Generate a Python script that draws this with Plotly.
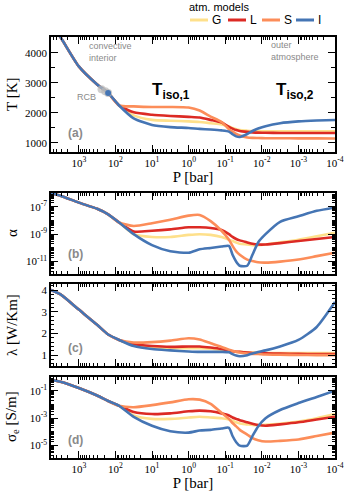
import plotly.graph_objects as go

# pressure grid [bar]; first 6 points = shared convective trunk
P = [5750, 3160, 1000, 316, 158, 79,
     31.6, 10, 3.16, 1, 0.5, 0.25, 0.126, 0.079, 0.063, 0.05, 0.04,
     0.025, 0.018, 0.0126, 0.0079, 0.00316, 0.001, 0.000316, 0.0001]

models = ['G', 'L', 'S', 'I']
colors = {'G': '#fee08b', 'L': '#dc2a24', 'S': '#fc8d59', 'I': '#4575b4'}

# (a) temperature [K]
T_trunk = [4950, 4520, 3550, 2950, 2667, 2250]
T_G = [1920, 1770, 1740, 1720, 1700, 1660, 1620, 1550, 1500, 1460, 1430, 1410, 1400, 1395, 1390, 1390, 1390, 1390, 1390]
T_L = [2020, 1940, 1900, 1870, 1850, 1770, 1680, 1540, 1480, 1430, 1400, 1370, 1355, 1345, 1340, 1335, 1335, 1333, 1333]
T_S = [2220, 2200, 2200, 2180, 2080, 1880, 1700, 1460, 1380, 1300, 1250, 1185, 1170, 1165, 1160, 1160, 1155, 1155, 1150]
T_I = [1820, 1600, 1530, 1500, 1470, 1450, 1420, 1380, 1290, 1220, 1200, 1300, 1400, 1480, 1560, 1660, 1720, 1750, 1767]

# (b) ionisation degree, log10
a_trunk = [-6.0, -6.2, -6.7, -7.15, -7.55, -8.15]
a_G = [-9.0, -9.2, -9.2, -9.05, -9.0, -9.05, -9.2, -9.4, -9.5, -9.6, -9.7, -9.75, -9.8, -9.8, -9.75, -9.6, -9.4, -9.15, -8.9]
a_L = [-8.8, -8.75, -8.65, -8.5, -8.5, -8.55, -8.7, -9.0, -9.2, -9.35, -9.45, -9.6, -9.7, -9.75, -9.75, -9.65, -9.5, -9.35, -9.2]
a_S = [-8.4, -8.2, -7.95, -7.65, -7.6, -8.05, -8.75, -9.4, -9.85, -10.25, -10.5, -10.85, -10.95, -11.05, -11.07, -11.0, -10.85, -10.6, -10.35]
a_I = [-9.0, -9.8, -10.25, -10.35, -10.1, -10.0, -9.9, -9.85, -10.5, -11.0, -11.3, -11.3, -10.5, -9.6, -9.0, -8.1, -7.7, -7.3, -7.05]

# (c) thermal conductivity [W/Km]
k_trunk = [4.0, 3.8, 3.1, 2.4, 1.95, 1.7]
k_G = [1.45, 1.35, 1.32, 1.32, 1.32, 1.3, 1.25, 1.2, 1.18, 1.16, 1.15, 1.13, 1.12, 1.11, 1.1, 1.1, 1.1, 1.1, 1.1]
k_L = [1.5, 1.42, 1.38, 1.4, 1.4, 1.35, 1.28, 1.2, 1.18, 1.16, 1.15, 1.12, 1.1, 1.09, 1.08, 1.07, 1.06, 1.05, 1.05]
k_S = [1.58, 1.6, 1.67, 1.78, 1.72, 1.55, 1.38, 1.25, 1.2, 1.15, 1.12, 1.08, 1.06, 1.05, 1.03, 1.02, 1.01, 1.0, 1.0]
k_I = [1.42, 1.28, 1.22, 1.17, 1.15, 1.15, 1.15, 1.13, 1.05, 0.98, 0.95, 1.0, 1.08, 1.15, 1.22, 1.4, 1.7, 2.3, 3.45]

# (d) electrical conductivity [S/m], log10
s_trunk = [-0.2, -0.35, -0.8, -1.35, -1.75, -2.1]
s_G = [-2.8, -3.05, -3.05, -2.95, -2.9, -2.95, -3.0, -3.1, -3.2, -3.3, -3.38, -3.45, -3.5, -3.5, -3.48, -3.4, -3.25, -3.0, -2.7]
s_L = [-2.55, -2.7, -2.65, -2.5, -2.45, -2.5, -2.65, -2.8, -2.95, -3.05, -3.15, -3.3, -3.4, -3.5, -3.55, -3.45, -3.3, -3.1, -2.9]
s_S = [-2.2, -2.05, -1.85, -1.62, -1.65, -1.95, -2.6, -3.05, -3.35, -3.6, -3.85, -4.2, -4.45, -4.6, -4.7, -4.65, -4.55, -4.3, -4.05]
s_I = [-2.9, -3.55, -3.95, -4.05, -3.9, -3.85, -3.75, -3.7, -4.3, -4.75, -5.0, -5.0, -4.3, -3.6, -3.0, -2.4, -1.9, -1.45, -1.0]

# radiative-convective boundary markers
rcb_P = [240, 190, 158]
rcb_T = [2790, 2720, 2667]

# axis tick labels
x_exps = [3, 2, 1, 0, -1, -2, -3, -4]
a_exps = [-7, -9, -11]
s_exps = [-1, -3, -5]

T = {'G': T_G, 'L': T_L, 'S': T_S, 'I': T_I}
A = {'G': a_G, 'L': a_L, 'S': a_S, 'I': a_I}
K = {'G': k_G, 'L': k_L, 'S': k_S, 'I': k_I}
S = {'G': s_G, 'L': s_L, 'S': s_S, 'I': s_I}

# pixel -> paper helpers (plot area 51..335 x 37..458)
def px(x):
    return (x - 51) / 284.0

def py(y):
    return (458 - y) / 421.0

def pow_labels(exps):
    return [10.0 ** e for e in exps], ['10<sup>%d</sup>' % e for e in exps]

def minor_vals(lo, hi):
    return [k * 10.0 ** e for e in range(lo, hi) for k in range(1, 10)]

def label(text, x, y, size, color='black', family='Liberation Sans', xanchor='center', **kw):
    return dict(text=text, x=px(x), y=py(y), xref='paper', yref='paper', xanchor=xanchor,
                yanchor='middle', showarrow=False, font=dict(family=family, size=size, color=color), **kw)

fig = go.Figure()
line = dict(width=2.6, shape='spline', smoothing=0.6)
for m in models:
    ln = dict(line, color=colors[m])
    fig.add_trace(go.Scatter(x=P, y=T_trunk + T[m], mode='lines', line=ln, xaxis='x', yaxis='y', showlegend=False))
    fig.add_trace(go.Scatter(x=P, y=[10 ** v for v in a_trunk + A[m]], mode='lines', line=ln, xaxis='x2', yaxis='y2', showlegend=False))
    fig.add_trace(go.Scatter(x=P, y=k_trunk + K[m], mode='lines', line=ln, xaxis='x3', yaxis='y3', showlegend=False))
    fig.add_trace(go.Scatter(x=P, y=[10 ** v for v in s_trunk + S[m]], mode='lines', line=ln, xaxis='x4', yaxis='y4', showlegend=False))

fig.add_trace(go.Scatter(x=rcb_P, y=rcb_T, mode='markers', showlegend=False,
                         marker=dict(size=8, color='rgba(185,185,185,0.7)')))
fig.add_trace(go.Scatter(x=rcb_P[-1:], y=rcb_T[-1:], mode='markers', showlegend=False,
                         marker=dict(size=6, color=colors['I'])))

serif = 'Liberation Serif'
sans = 'Liberation Sans'
xv, xt = pow_labels(x_exps)
xcommon = dict(type='log', range=[3.76, -4], autorange=False, automargin=False,
               tickmode='array', tickvals=xv, ticktext=xt,
               showline=True, linecolor='black', linewidth=1.5, mirror='ticks',
               ticks='inside', ticklen=7, tickcolor='black', showgrid=False, zeroline=False,
               minor=dict(ticks='inside', ticklen=3, tickmode='array', tickvals=minor_vals(-4, 4),
                          tickcolor='black', showgrid=False),
               tickfont=dict(family=serif, size=11, color='black'))
ycommon = dict(showline=True, linecolor='black', linewidth=1.5, mirror='ticks', automargin=False,
               ticks='inside', ticklen=7, tickcolor='black', showgrid=False, zeroline=False,
               tickfont=dict(family=serif, size=11, color='black'))
av, at = pow_labels(a_exps)
sv, st = pow_labels(s_exps)
xtitle = dict(text='P [bar]', font=dict(family=serif, size=15, color='black'), standoff=0)

fig.update_layout(
    width=346, height=496,
    margin=dict(l=51, r=11, t=37, b=38),
    paper_bgcolor='white', plot_bgcolor='white',
    xaxis=dict(xcommon, domain=[0, 1], anchor='y', title=xtitle),
    xaxis2=dict(xcommon, domain=[0, 1], anchor='y2', showticklabels=False),
    xaxis3=dict(xcommon, domain=[0, 1], anchor='y3', showticklabels=False),
    xaxis4=dict(xcommon, domain=[0, 1], anchor='y4', title=xtitle),
    yaxis=dict(ycommon, domain=[py(152), 1], range=[700, 4530], dtick=1000,
               minor=dict(ticks='inside', ticklen=4, dtick=500, tickcolor='black')),
    yaxis2=dict(ycommon, domain=[py(274), py(193)], type='log', range=[-11.9, -6.0],
                tickmode='array', tickvals=av, ticktext=at,
                minor=dict(ticks='inside', ticklen=3, tickmode='array', tickvals=minor_vals(-12, -5),
                           tickcolor='black')),
    yaxis3=dict(ycommon, domain=[py(366), py(284)], range=[0.5, 4.28], dtick=1,
                minor=dict(ticks='inside', ticklen=3, dtick=0.2, tickcolor='black')),
    yaxis4=dict(ycommon, domain=[0, py(377)], type='log', range=[-5.9, 0.0],
                tickmode='array', tickvals=sv, ticktext=st,
                minor=dict(ticks='inside', ticklen=3, tickmode='array', tickvals=minor_vals(-6, 1),
                           tickcolor='black')),
)

gray = '#8a8a8a'
ann = []
# y-axis titles
for text, y in [('T [K]', 95), ('α', 233), ('λ [W/Km]', 325), ('σ<sub>e</sub> [S/m]', 417)]:
    ann.append(label(text, 12, y, 15, family=serif, textangle=-90))
# panel letters
for text, y in [('(a)', 133), ('(b)', 254), ('(c)', 348), ('(d)', 440)]:
    ann.append(label('<b>%s</b>' % text, 66, y, 12, color=gray, xanchor='left'))
ann.append(label('convective<br>interior', 87, 52, 9, color=gray, xanchor='left', align='left'))
ann.append(label('outer<br>atmosphere', 269, 51, 9, color=gray, xanchor='left', align='left'))
ann.append(label('RCB', 86, 97, 9, color=gray))
ann.append(label('<b>T<sub>iso,1</sub></b>', 171, 91, 17))
ann.append(label('<b>T<sub>iso,2</sub></b>', 295, 91, 17))

# legend
ann.append(label('atm. models', 219, 7, 11))
shapes = []
for m, x0 in zip(models, [190, 228, 262, 296]):
    shapes.append(dict(type='line', xref='paper', yref='paper', x0=px(x0), x1=px(x0 + 18),
                       y0=py(20), y1=py(20), line=dict(color=colors[m], width=3)))
    ann.append(label(m, x0 + 20, 20, 12, xanchor='left'))

fig.update_layout(annotations=ann, shapes=shapes)
# drop the default page margin so the figure sits at the window's top-left corner
fig.write_html("out.html", config={'displayModeBar': False},
               post_script="document.body.style.margin='0';")
